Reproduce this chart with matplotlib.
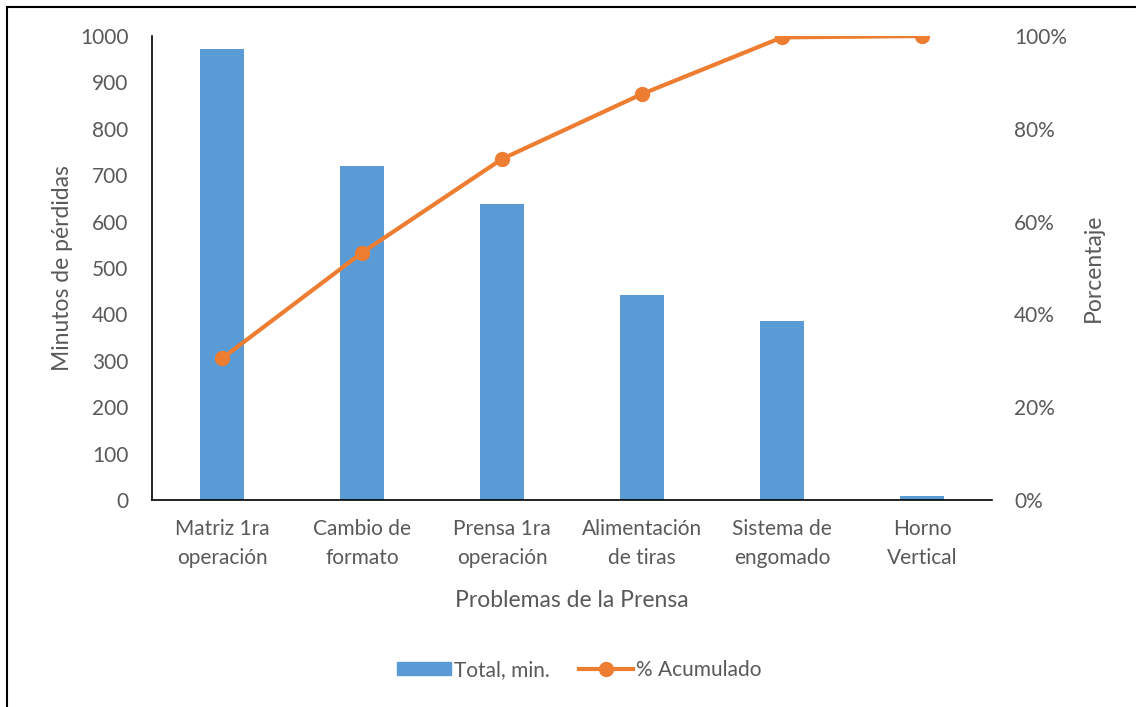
import matplotlib.pyplot as plt
from matplotlib.lines import Line2D
from matplotlib.ticker import PercentFormatter

# Data
categories = ["Matriz 1ra\noperación", "Cambio de\nformato", "Prensa 1ra\noperación",
              "Alimentación\nde tiras", "Sistema de\nengomado", "Horno\nVertical"]
minutes = [972, 720, 638, 442, 386, 9]
cum_pct = [30.5, 53.3, 73.5, 87.5, 99.7, 100.0]

bar_color = "#5B9BD5"
line_color = "#ED7D31"
text_color = "#595959"

plt.rcParams["font.family"] = ["Lato", "DejaVu Sans"]

fig = plt.figure(figsize=(11.36, 7.07), dpi=100)
ax = fig.add_axes([152 / 1136, 1 - 500 / 707, 840 / 1136, 464 / 707])

x = list(range(len(categories)))
ax.bar(x, minutes, width=0.315, color=bar_color, label="Total, min.", zorder=2)
ax.set_xlim(-0.5, len(categories) - 0.5)
ax.set_ylim(0, 1000)
ax.set_yticks(range(0, 1001, 100))
ax.set_xticks(x)
ax.set_xticklabels(categories, linespacing=1.55)
ax.tick_params(axis="both", length=0, labelsize=15, labelcolor=text_color)
ax.tick_params(axis="y", pad=17)
ax.tick_params(axis="x", pad=14)
for s in ["top", "right"]:
    ax.spines[s].set_visible(False)
ax.spines["left"].set_color("black")
ax.spines["bottom"].set_color("black")
ax.spines["left"].set_linewidth(1.2)
ax.spines["bottom"].set_linewidth(1.2)
ax.set_ylabel("Minutos de pérdidas", fontsize=16.5, color=text_color, labelpad=5)
ax.set_xlabel("Problemas de la Prensa", fontsize=16.5, color=text_color, labelpad=16)

ax2 = ax.twinx()
ax2.plot(x, cum_pct, color=line_color, lw=3, marker="o", ms=10, zorder=3)
ax2.set_ylim(0, 100)
ax2.set_yticks(range(0, 101, 20))
ax2.yaxis.set_major_formatter(PercentFormatter(decimals=0))
ax2.tick_params(axis="y", length=0, labelsize=15, labelcolor=text_color, pad=16)
for s in ax2.spines.values():
    s.set_visible(False)
ax2.set_ylabel("Porcentaje", fontsize=16.5, color=text_color, labelpad=11)

handles = [plt.Rectangle((0, 0), 1, 1, color=bar_color),
           Line2D([0], [0], color=line_color, lw=3, marker="o", ms=10)]
fig.legend(handles, ["Total, min.", "% Acumulado"], loc="center",
           bbox_to_anchor=(0.51, 1 - 670 / 707), ncol=2, frameon=False,
           fontsize=15, labelcolor=text_color, handlelength=2.6,
           handleheight=0.6, handletextpad=0.15, columnspacing=1.4)

# outer chart border (left and top edges visible)
fig.add_artist(Line2D([7 / 1136, 7 / 1136], [0, 1 - 7 / 707], color="black", lw=1.5))
fig.add_artist(Line2D([7 / 1136, 1], [1 - 7 / 707, 1 - 7 / 707], color="black", lw=1.5))

fig.savefig("out.png", dpi=100)
